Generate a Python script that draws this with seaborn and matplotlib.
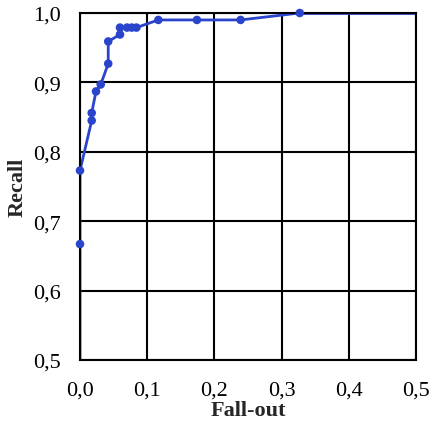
import matplotlib
matplotlib.use("Agg")
import matplotlib.pyplot as plt
import seaborn as sns
import pandas as pd
from matplotlib.ticker import FuncFormatter

# ROC-style curve values
fall_out = [0.0, 0.0, 0.0, 0.0174, 0.0174, 0.0238, 0.0308, 0.042, 0.042,
            0.0595, 0.0595, 0.070, 0.077, 0.084, 0.1166, 0.174, 0.239, 0.327]
recall = [0.5, 0.667, 0.773, 0.845, 0.856, 0.887, 0.897, 0.927, 0.959,
          0.969, 0.979, 0.979, 0.979, 0.979, 0.990, 0.990, 0.990, 1.0]
tail_x = [0.327, 0.5]
tail_y = [1.0, 1.0]
x_ticks = [0.0, 0.1, 0.2, 0.3, 0.4, 0.5]
y_ticks = [0.5, 0.6, 0.7, 0.8, 0.9, 1.0]

df = pd.DataFrame({'fall_out': fall_out, 'recall': recall})
df_tail = pd.DataFrame({'fall_out': tail_x, 'recall': tail_y})

sns.set_style('white')
plt.rcParams['font.family'] = 'serif'
plt.rcParams['font.serif'] = ['Liberation Serif', 'DejaVu Serif']

color = '#2a45cc'
fig = plt.figure(figsize=(4.31, 4.31), dpi=100)
ax = fig.add_axes([80 / 431, 1 - 361 / 431, 336 / 431, 347 / 431])

sns.lineplot(data=df_tail, x='fall_out', y='recall', ax=ax, color=color,
             linewidth=2, sort=False, estimator=None)
sns.lineplot(data=df, x='fall_out', y='recall', ax=ax, color=color,
             linewidth=2, sort=False, estimator=None)
sns.scatterplot(data=df.iloc[1:], x='fall_out', y='recall', ax=ax,
                color=color, s=38, edgecolor='none', zorder=5, clip_on=False)

ax.set_xlim(0, 0.5)
ax.set_ylim(0.5, 1.0)
ax.set_xticks(x_ticks)
ax.set_yticks(y_ticks)
fmt = FuncFormatter(lambda v, p: f'{v:.1f}'.replace('.', ','))
ax.xaxis.set_major_formatter(fmt)
ax.yaxis.set_major_formatter(fmt)
ax.grid(True, color='black', linewidth=1.5)
ax.set_axisbelow(True)
for s in ax.spines.values():
    s.set_color('black')
    s.set_linewidth(1.5)
ax.tick_params(length=0, labelsize=16, colors='black')
ax.tick_params(axis='y', pad=14)
ax.tick_params(axis='x', pad=15)
ax.set_xlabel('Fall-out', fontsize=16, fontweight='bold', labelpad=0)
ax.set_ylabel('Recall', fontsize=16, fontweight='bold', labelpad=4)

fig.savefig('out.png', dpi=100)
